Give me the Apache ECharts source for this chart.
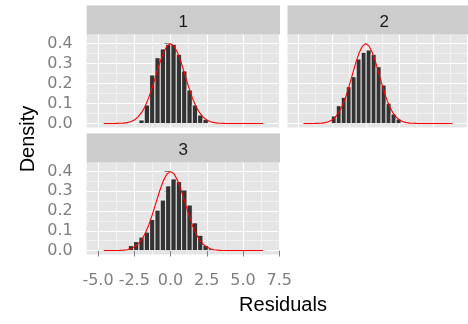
<!DOCTYPE html>
<html>
<head>
<meta charset="utf-8">
<script src="https://cdn.jsdelivr.net/npm/echarts@6/dist/echarts.min.js"></script>
<style>
  html, body { margin: 0; padding: 0; background: #ffffff; overflow: hidden; }
  #chart { width: 468px; height: 324px; }
</style>
</head>
<body>
<div id="chart"></div>
<script>
// Facet labels
const panelNames = ['1', '2', '3'];

// Histogram bins (shared by all facets)
const binWidth = 0.368;
const binMids = [-3.098, -2.73, -2.362, -1.994, -1.626, -1.258, -0.89, -0.522, -0.154,
                 0.214, 0.582, 0.95, 1.318, 1.686, 2.054, 2.422, 2.79];

// Density of residuals per facet
const density1 = [0, 0, 0, 0.0175, 0.0925, 0.2425, 0.329, 0.3725, 0.396,
                  0.396, 0.346, 0.2625, 0.1675, 0.0925, 0.0425, 0.021, 0];
const density2 = [0, 0, 0.0375, 0.089, 0.131, 0.184, 0.234, 0.3225, 0.356,
                  0.3675, 0.346, 0.284, 0.1925, 0.101, 0.0475, 0.0225, 0];
const density3 = [0.006, 0.025, 0.045, 0.068, 0.093, 0.157, 0.204, 0.255, 0.327,
                  0.362, 0.348, 0.306, 0.23, 0.14, 0.077, 0.026, 0.009];

// Reference normal density curve
const curveX = [-4.6, -4.5, -4.25, -4.0, -3.75, -3.5, -3.25, -3.0, -2.75, -2.5, -2.25, -2.0,
                -1.75, -1.5, -1.25, -1.0, -0.75, -0.5, -0.25, 0, 0.25, 0.5, 0.75, 1.0,
                1.25, 1.5, 1.75, 2.0, 2.25, 2.5, 2.75, 3.0, 3.25, 3.5, 3.75, 4.0,
                4.5, 5.0, 5.5, 6.0, 6.4];
const curveY = [0, 0, 0, 0.0001, 0.0004, 0.0009, 0.0020, 0.0044, 0.0091, 0.0175, 0.0317, 0.0540,
                0.0863, 0.1295, 0.1826, 0.2420, 0.3011, 0.3521, 0.3867, 0.3989, 0.3867, 0.3521, 0.3011, 0.2420,
                0.1826, 0.1295, 0.0863, 0.0540, 0.0317, 0.0175, 0.0091, 0.0044, 0.0020, 0.0009, 0.0004, 0.0001,
                0, 0, 0, 0, 0];

// Axis ticks
const xTicks = [-5, -2.5, 0, 2.5, 5, 7.5];
const xMinorTicks = [-3.75, -1.25, 1.25, 3.75, 6.25];
const yTicks = [0, 0.1, 0.2, 0.3, 0.4];
const yMinorTicks = [0.05, 0.15, 0.25, 0.35];

const X_MIN = -5.78, X_MAX = 7.55, Y_MIN = -0.02, Y_MAX = 0.445;
const PANEL_W = 193.3, STRIP_H = 29;
const FONT = '"Liberation Sans", Arial, sans-serif';
const TICK_FONT = '"DejaVu Sans", sans-serif';
const TICK_COLOR = '#7F7F7F';

const panels = [
  { left: 86.7,  top: 34.5,  height: 93, xLabels: false, yLabels: true },
  { left: 287.5, top: 34.5,  height: 93, xLabels: false, yLabels: false },
  { left: 86.7,  top: 162.5, height: 92, xLabels: true,  yLabels: true }
];
const densities = [density1, density2, density3];

function renderBar(params, api) {
  const mid = api.value(0), h = api.value(1);
  if (!(h > 0)) return null;
  const tl = api.coord([mid - binWidth / 2, h]);
  const br = api.coord([mid + binWidth / 2, 0]);
  return {
    type: 'rect',
    shape: { x: tl[0], y: tl[1], width: br[0] - tl[0], height: br[1] - tl[1] },
    style: { fill: '#333333', stroke: '#FFFFFF', lineWidth: 0.8 }
  };
}

const grid = [], xAxis = [], yAxis = [], series = [], graphic = [];

panels.forEach((p, i) => {
  grid.push({ left: p.left, top: p.top, width: PANEL_W, height: p.height,
              show: true, backgroundColor: '#E5E5E5', borderWidth: 0 });

  // minor grid lines first, major on top
  xAxis.push({ type: 'value', gridIndex: i, position: 'bottom', min: X_MIN, max: X_MAX,
    axisLine: { show: false },
    axisTick: { show: false, customValues: xMinorTicks },
    axisLabel: { show: false, customValues: xMinorTicks },
    splitLine: { show: true, lineStyle: { color: '#F2F2F2', width: 1 } } });
  xAxis.push({ type: 'value', gridIndex: i, position: 'bottom', min: X_MIN, max: X_MAX,
    axisLine: { show: false },
    axisTick: { show: p.xLabels, customValues: xTicks, length: 6, lineStyle: { color: TICK_COLOR, width: 1 } },
    axisLabel: { show: p.xLabels, customValues: xTicks, margin: 18, color: TICK_COLOR,
                 fontFamily: TICK_FONT, fontSize: 16, formatter: v => v.toFixed(1) },
    splitLine: { show: true, lineStyle: { color: '#FFFFFF', width: 1.1 } } });

  yAxis.push({ type: 'value', gridIndex: i, position: 'left', min: Y_MIN, max: Y_MAX,
    axisLine: { show: false },
    axisTick: { show: false, customValues: yMinorTicks },
    axisLabel: { show: false, customValues: yMinorTicks },
    splitLine: { show: true, lineStyle: { color: '#F2F2F2', width: 1 } } });
  yAxis.push({ type: 'value', gridIndex: i, position: 'left', min: Y_MIN, max: Y_MAX,
    axisLine: { show: false },
    axisTick: { show: p.yLabels, customValues: yTicks, length: 6, lineStyle: { color: TICK_COLOR, width: 1 } },
    axisLabel: { show: p.yLabels, customValues: yTicks, margin: 14, color: TICK_COLOR,
                 fontFamily: TICK_FONT, fontSize: 16, formatter: v => v.toFixed(1) },
    splitLine: { show: true, lineStyle: { color: '#FFFFFF', width: 1.1 } } });

  series.push({ type: 'custom', xAxisIndex: 2 * i + 1, yAxisIndex: 2 * i + 1,
    data: binMids.map((m, j) => [m, densities[i][j]]),
    renderItem: renderBar, silent: true });
  series.push({ type: 'line', xAxisIndex: 2 * i + 1, yAxisIndex: 2 * i + 1,
    data: curveX.map((x, j) => [x, curveY[j]]),
    showSymbol: false, symbol: 'none', silent: true,
    lineStyle: { color: '#FF0000', width: 1.1 } });

  // facet strip
  graphic.push({ type: 'rect', silent: true,
    shape: { x: p.left, y: p.top - STRIP_H, width: PANEL_W, height: STRIP_H },
    style: { fill: '#CCCCCC' } });
  graphic.push({ type: 'text', silent: true,
    x: p.left + PANEL_W / 2, y: p.top - STRIP_H / 2 + 2,
    style: { text: panelNames[i], fill: '#1A1A1A', font: '17px ' + FONT,
             align: 'center', verticalAlign: 'middle' } });
});

graphic.push({ type: 'text', silent: true, x: 28, y: 139, rotation: Math.PI / 2,
  style: { text: 'Density', fill: '#000000', font: '20px ' + FONT,
           align: 'center', verticalAlign: 'middle' } });
graphic.push({ type: 'text', silent: true, x: 283, y: 305,
  style: { text: 'Residuals', fill: '#000000', font: '20px ' + FONT,
           align: 'center', verticalAlign: 'middle' } });

const chart = echarts.init(document.getElementById('chart'), null, { renderer: 'canvas' });
chart.setOption({
  animation: false,
  backgroundColor: '#FFFFFF',
  textStyle: { fontFamily: FONT },
  grid, xAxis, yAxis, series, graphic
});
</script>
</body>
</html>
